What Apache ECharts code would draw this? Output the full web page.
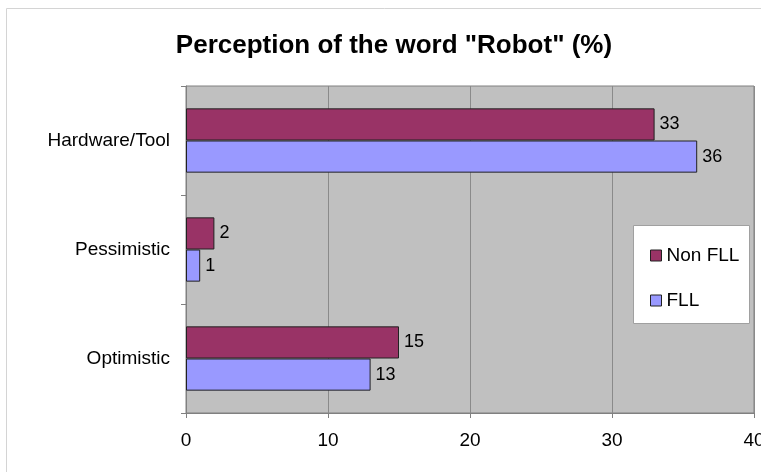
<!DOCTYPE html>
<html><head><meta charset="utf-8">
<script src="https://cdn.jsdelivr.net/npm/echarts@6/dist/echarts.min.js"></script>
<style>html,body{margin:0;padding:0;background:#fff}#c{width:761px;height:472px}</style>
</head><body><div id="c"></div>
<script>
const categories = ['Optimistic', 'Pessimistic', 'Hardware/Tool'];
const nonFLL = [15, 2, 33];
const fll = [13, 1, 36];
const xTicks = [0, 10, 20, 30, 40];

const chart = echarts.init(document.getElementById('c'));
const font = 'Liberation Sans, Arial, sans-serif';
chart.setOption({
  animation: false,
  title: {
    text: 'Perception of the word "Robot" (%)',
    left: 389, top: 28, textAlign: 'center',
    textStyle: {fontFamily: font, fontSize: 26, fontWeight: 'bold', color: '#000'}
  },
  graphic: [{
    type: 'rect', shape: {x: 6.5, y: 8.5, width: 800, height: 500},
    style: {fill: 'none', stroke: '#d4d4d4', lineWidth: 1}, silent: true, z: -1
  }, {
    type: 'rect', shape: {x: 633.5, y: 225.5, width: 116, height: 98},
    style: {fill: '#fff', stroke: '#a0a0a0', lineWidth: 1}, z: 50
  }],
  legend: {
    orient: 'vertical', left: 645, top: 241, icon: 'rect',
    itemWidth: 11, itemHeight: 11, itemGap: 26, z: 60,
    data: [
      {name: 'Non FLL', itemStyle: {color: '#993366', borderColor: '#222', borderWidth: 1}},
      {name: 'FLL', itemStyle: {color: '#9999FF', borderColor: '#222', borderWidth: 1}}
    ],
    textStyle: {fontFamily: font, fontSize: 19, color: '#000', padding: [0, 0, 0, 0]}
  },
  grid: {left: 186, right: 7, top: 86, bottom: 59, outerBoundsMode: 'none', containLabel: false, show: true, backgroundColor: '#C0C0C0', borderColor: '#808080', borderWidth: 1},
  xAxis: {
    type: 'value', min: xTicks[0], max: xTicks[xTicks.length - 1], interval: 10,
    axisLine: {show: true, lineStyle: {color: '#808080'}},
    axisTick: {show: true, length: 5, lineStyle: {color: '#808080'}},
    splitLine: {show: true, lineStyle: {color: '#8a8a8a', width: 1}},
    axisLabel: {fontFamily: font, fontSize: 19, color: '#000', margin: 18, hideOverlap: false}
  },
  yAxis: {
    type: 'category', data: categories,
    axisLine: {show: true, lineStyle: {color: '#808080'}},
    axisTick: {show: true, length: 5, lineStyle: {color: '#808080'}},
    axisLabel: {fontFamily: font, fontSize: 19, color: '#000', margin: 16}
  },
  series: [{
    name: 'Non FLL', type: 'bar', data: nonFLL, barGap: '0%', barCategoryGap: '41%',
    itemStyle: {color: '#993366', borderColor: '#222', borderWidth: 1},
    label: {show: true, position: 'right', distance: 5, fontFamily: font, fontSize: 18, color: '#000'}
  }, {
    name: 'FLL', type: 'bar', data: fll, barGap: '0%', barCategoryGap: '41%',
    itemStyle: {color: '#9999FF', borderColor: '#222', borderWidth: 1},
    label: {show: true, position: 'right', distance: 5, fontFamily: font, fontSize: 18, color: '#000'}
  }]
});
</script></body></html>
